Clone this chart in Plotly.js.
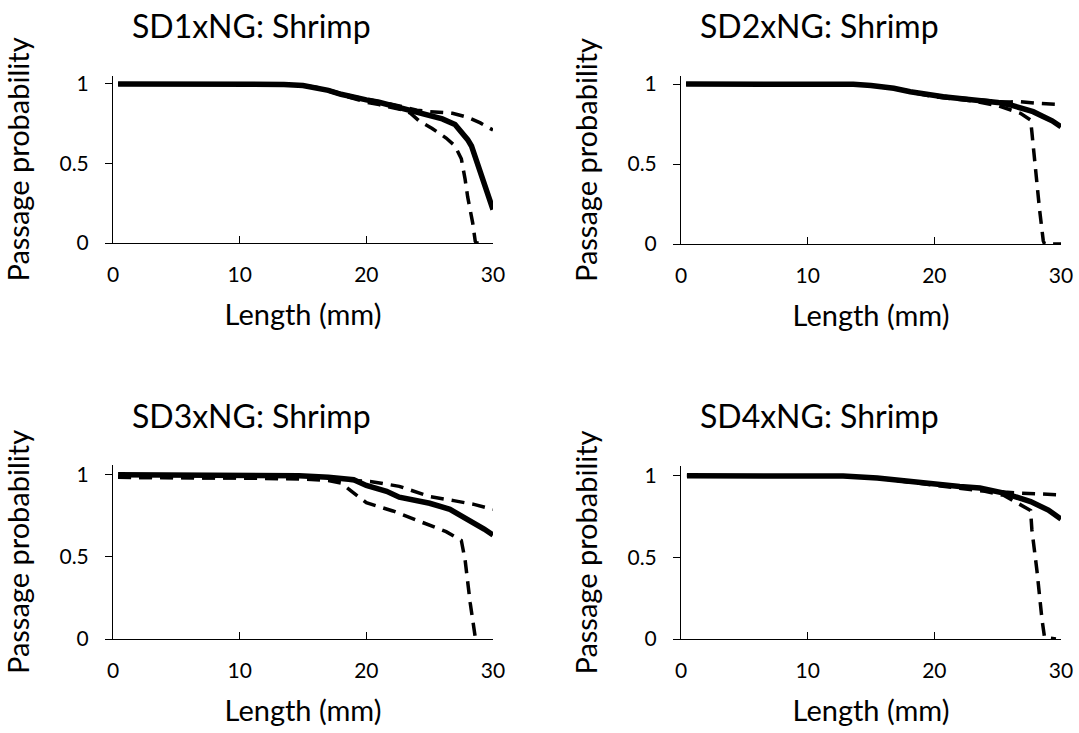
<!DOCTYPE html>
<html>
<head>
<meta charset="utf-8">
<script src="https://cdn.plot.ly/plotly-3.0.1.min.js"></script>
<style>html,body{margin:0;padding:0;background:#fff;}#chart{width:1079px;height:733px;}</style>
</head>
<body>
<div id="chart"></div>
<script>
// ---------- data ----------
const panelTitles = ["SD1xNG: Shrimp", "SD2xNG: Shrimp", "SD3xNG: Shrimp", "SD4xNG: Shrimp"];
const xTickVals = [0, 10, 20, 30];
const yTickVals = [0, 0.5, 1];
const yTickText = ["0", "0.5", "1"];

// Panel 1 : SD1xNG
const sd1ModelX = [0.4, 5, 10, 13.5, 15, 16, 17, 18, 19, 20, 21, 22, 23, 24, 25, 26, 27, 27.5, 28, 28.3, 29, 30];
const sd1ModelY = [1, 1, 1, 0.997, 0.99, 0.979, 0.96, 0.935, 0.915, 0.9, 0.885, 0.865, 0.845, 0.825, 0.8, 0.78, 0.745, 0.7, 0.65, 0.61, 0.45, 0.21];
const sd1UpperX = [0.4, 5, 10, 13.5, 15, 16, 17, 18, 19, 20, 21, 22, 23, 24, 25, 26.8, 28, 29, 30];
const sd1UpperY = [1, 1, 1, 0.997, 0.99, 0.98, 0.962, 0.94, 0.92, 0.905, 0.89, 0.875, 0.855, 0.835, 0.826, 0.816, 0.79, 0.755, 0.71];
const sd1LowerX = [0.4, 5, 10, 13.5, 15, 16, 17, 18, 19, 20, 21, 22, 23, 23.5, 24.2, 25.2, 26.3, 27, 27.5, 27.8, 28, 28.4, 28.6, 28.7, 29.5];
const sd1LowerY = [1, 1, 1, 0.997, 0.99, 0.977, 0.955, 0.93, 0.905, 0.885, 0.87, 0.855, 0.835, 0.815, 0.765, 0.72, 0.66, 0.61, 0.53, 0.4, 0.29, 0.125, 0.01, 0, 0];

// Panel 2 : SD2xNG
const sd2ModelX = [0.4, 5, 10, 13.6, 15, 16.8, 18.1, 19, 20.7, 22, 23.4, 25, 26, 27, 27.8, 28.5, 29.3, 30];
const sd2ModelY = [1, 1, 1, 0.998, 0.99, 0.973, 0.952, 0.94, 0.92, 0.91, 0.9, 0.885, 0.869, 0.85, 0.827, 0.8, 0.77, 0.733];
const sd2UpperX = [0.4, 5, 10, 13.6, 15, 16.8, 18.1, 20, 23, 25, 26, 26.8, 28, 30];
const sd2UpperY = [1, 1, 1, 0.998, 0.99, 0.974, 0.954, 0.93, 0.905, 0.89, 0.888, 0.89, 0.88, 0.872];
const sd2LowerX = [0.4, 5, 10, 13.6, 15, 16.8, 18.1, 20, 23, 25, 26.8, 27.6, 27.7, 28, 28.3, 28.6, 28.7, 30];
const sd2LowerY = [1, 1, 1, 0.998, 0.99, 0.972, 0.95, 0.92, 0.895, 0.865, 0.817, 0.775, 0.7, 0.45, 0.22, 0.02, 0, 0];

// Panel 3 : SD3xNG
const sd3ModelX = [0.4, 5, 10, 14.7, 17, 18.7, 19, 20, 21, 21.6, 22.6, 24, 25, 26.6, 27.4, 28.4, 29.3, 30];
const sd3ModelY = [1, 1, 0.998, 0.995, 0.985, 0.972, 0.97, 0.935, 0.91, 0.9, 0.864, 0.845, 0.827, 0.79, 0.756, 0.715, 0.67, 0.634];
const sd3UpperX = [0.4, 5, 10, 15, 18, 19, 20.3, 22.6, 25, 26.9, 28.5, 30];
const sd3UpperY = [0.985, 0.985, 0.985, 0.98, 0.97, 0.965, 0.96, 0.93, 0.868, 0.843, 0.82, 0.79];
const sd3LowerX = [0.4, 5, 10, 15, 17, 18, 18.7, 20, 22.1, 24.2, 26.3, 27.5, 27.8, 28.2, 28.6, 28.8];
const sd3LowerY = [0.985, 0.985, 0.98, 0.975, 0.965, 0.95, 0.91, 0.83, 0.78, 0.715, 0.654, 0.6, 0.48, 0.22, 0.01, 0];

// Panel 4 : SD4xNG
const sd4ModelX = [0.47, 5, 10, 12.8, 15.5, 18.9, 22, 23.6, 25.5, 27.6, 29, 30];
const sd4ModelY = [1, 1, 1, 0.998, 0.986, 0.955, 0.934, 0.925, 0.894, 0.842, 0.79, 0.735];
const sd4UpperX = [0.47, 5, 10, 12.8, 15.5, 18.9, 22, 24, 25.5, 26.8, 28, 30];
const sd4UpperY = [1, 1, 1, 0.998, 0.986, 0.956, 0.935, 0.912, 0.9, 0.894, 0.89, 0.883];
const sd4LowerX = [0.47, 5, 10, 12.8, 15.5, 18.9, 22, 24, 25.5, 27, 27.6, 27.7, 28.1, 28.5, 28.7, 29.6];
const sd4LowerY = [1, 1, 1, 0.998, 0.985, 0.953, 0.925, 0.905, 0.88, 0.81, 0.787, 0.67, 0.42, 0.12, 0.01, 0];

// ---------- layout helpers ----------
const W = 1079, H = 733;
const FONT = "Lato, 'Open Sans', sans-serif";
// pixel boxes of each plot area [left, right, top, bottom], y range top
const boxes = [
  {l: 113, r: 493, t: 76, b: 243, ytop: 1.05},
  {l: 681, r: 1061, t: 76, b: 244, ytop: 1.05},
  {l: 113, r: 493, t: 465, b: 639, ytop: 1.06},
  {l: 681, r: 1061, t: 466, b: 639, ytop: 1.06}
];
const titlePos = [
  {x: 251, y: 25}, {x: 819, y: 25}, {x: 251, y: 415}, {x: 819, y: 415}
];

const series = [
  [sd1ModelX, sd1ModelY, sd1UpperX, sd1UpperY, sd1LowerX, sd1LowerY],
  [sd2ModelX, sd2ModelY, sd2UpperX, sd2UpperY, sd2LowerX, sd2LowerY],
  [sd3ModelX, sd3ModelY, sd3UpperX, sd3UpperY, sd3LowerX, sd3LowerY],
  [sd4ModelX, sd4ModelY, sd4UpperX, sd4UpperY, sd4LowerX, sd4LowerY]
];

const traces = [];
const layout = {
  width: W, height: H,
  margin: {l: 0, r: 0, t: 0, b: 0},
  paper_bgcolor: "#ffffff", plot_bgcolor: "#ffffff",
  showlegend: false,
  font: {family: FONT, color: "#000000"},
  annotations: []
};

series.forEach((s, i) => {
  const n = i + 1;
  const xa = n === 1 ? "x" : "x" + n;
  const ya = n === 1 ? "y" : "y" + n;
  const dashLine = {color: "#000000", width: 3.5, dash: "13px,8px"};
  traces.push({x: s[2], y: s[3], xaxis: xa, yaxis: ya, mode: "lines", line: dashLine, hoverinfo: "skip"});
  traces.push({x: s[4], y: s[5], xaxis: xa, yaxis: ya, mode: "lines", line: dashLine, hoverinfo: "skip"});
  traces.push({x: s[0], y: s[1], xaxis: xa, yaxis: ya, mode: "lines", line: {color: "#000000", width: 5.5}, hoverinfo: "skip"});

  const b = boxes[i];
  const xKey = n === 1 ? "xaxis" : "xaxis" + n;
  const yKey = n === 1 ? "yaxis" : "yaxis" + n;
  layout[xKey] = {
    domain: [b.l / W, b.r / W],
    anchor: ya,
    range: [0, 30],
    tickvals: xTickVals,
    ticktext: xTickVals.map(String),
    ticks: "inside", ticklen: 7, tickwidth: 1, tickcolor: "#000000",
    showline: true, linecolor: "#000000", linewidth: 1,
    showgrid: false, zeroline: false,
    tickfont: {family: FONT, size: 21, color: "#000000"},
    ticklabelstandoff: 13,
    title: {text: "Length (mm)", font: {family: FONT, size: 29, color: "#000000"}, standoff: 19},
    fixedrange: true
  };
  layout[yKey] = {
    domain: [1 - b.b / H, 1 - b.t / H],
    anchor: xa,
    range: [0, b.ytop],
    tickvals: yTickVals,
    ticktext: yTickText,
    ticks: "outside", ticklen: 7, tickwidth: 1, tickcolor: "#000000",
    showline: true, linecolor: "#000000", linewidth: 1,
    showgrid: false, zeroline: false,
    tickfont: {family: FONT, size: 21, color: "#000000"},
    ticklabelstandoff: 12,
    title: {text: "Passage probability", font: {family: FONT, size: 29, color: "#000000"}, standoff: 21},
    fixedrange: true
  };
  layout.annotations.push({
    text: panelTitles[i],
    xref: "paper", yref: "paper",
    x: titlePos[i].x / W, y: 1 - titlePos[i].y / H,
    xanchor: "center", yanchor: "middle",
    showarrow: false,
    font: {family: FONT, size: 32, color: "#000000"}
  });
});

Plotly.newPlot("chart", traces, layout, {staticPlot: true, displayModeBar: false});
</script>
</body>
</html>
